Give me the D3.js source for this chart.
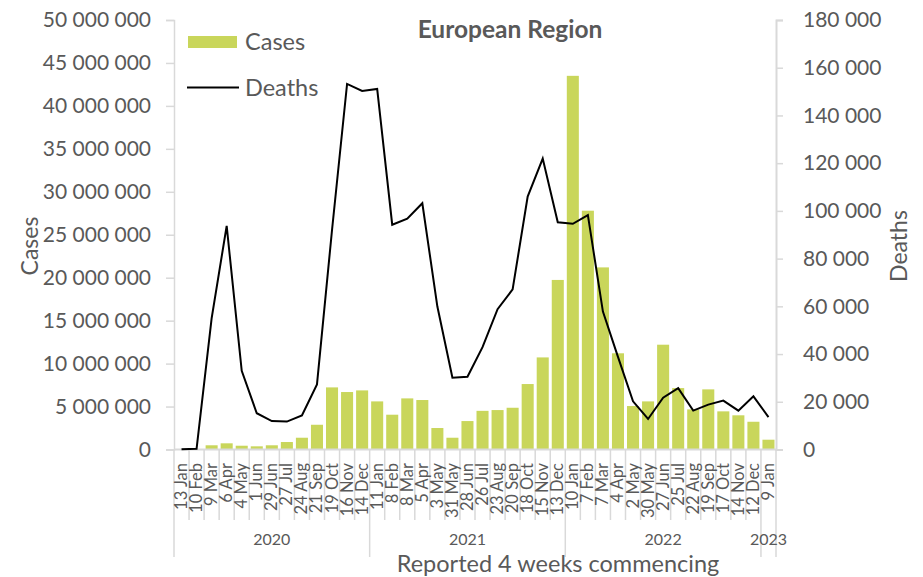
<!DOCTYPE html>
<html>
<head>
<meta charset="utf-8">
<script src="https://cdn.jsdelivr.net/npm/d3@7"></script>
<style>
  body { margin: 0; background: #fff; }
  svg { display: block; font-family: Lato, "Liberation Sans", sans-serif; }
</style>
</head>
<body>
<svg id="chart" width="923" height="577"></svg>
<script>
const categories = ["13 Jan","10 Feb","9 Mar","6 Apr","4 May","1 Jun","29 Jun","27 Jul","24 Aug","21 Sep","19 Oct","16 Nov","14 Dec",
  "11 Jan","8 Feb","8 Mar","5 Apr","3 May","31 May","28 Jun","26 Jul","23 Aug","20 Sep","18 Oct","15 Nov","13 Dec",
  "10 Jan","7 Feb","7 Mar","4 Apr","2 May","30 May","27 Jun","25 Jul","22 Aug","19 Sep","17 Oct","14 Nov","12 Dec",
  "9 Jan"];
const years = ["2020","2020","2020","2020","2020","2020","2020","2020","2020","2020","2020","2020","2020",
  "2021","2021","2021","2021","2021","2021","2021","2021","2021","2021","2021","2021","2021",
  "2022","2022","2022","2022","2022","2022","2022","2022","2022","2022","2022","2022","2022",
  "2023"];
const cases = [5000, 30000, 490000, 720000, 440000, 370000, 490000, 870000, 1370000, 2880000, 7230000, 6690000, 6880000,
  5600000, 4050000, 5950000, 5760000, 2500000, 1370000, 3310000, 4500000, 4590000, 4860000, 7620000, 10720000, 19740000,
  43500000, 27800000, 21200000, 11200000, 5060000, 5600000, 12200000, 7150000, 4670000, 7000000, 4440000, 3980000, 3230000,
  1140000];
const deaths = [100, 300, 55000, 93700, 33000, 15200, 11900, 11700, 14300, 27300, 92000, 153200, 150300,
  151100, 94200, 96700, 103200, 59900, 30100, 30500, 42900, 58800, 67100, 106000, 121900, 95200,
  94600, 98200, 57800, 38800, 20200, 12800, 21700, 25700, 16300, 18800, 20500, 16300, 22300,
  13600];
const casesTicks = [0, 5e6, 10e6, 15e6, 20e6, 25e6, 30e6, 35e6, 40e6, 45e6, 50e6];
const deathsTicks = [0, 20000, 40000, 60000, 80000, 100000, 120000, 140000, 160000, 180000];
const title = "European Region";
const seriesNames = ["Cases", "Deaths"];

const svg = d3.select("#chart");
const pLeft = 174, pRight = 776, pTop = 20, pBottom = 449.5;
const textCol = "#595959", axisCol = "#d9d9d9", barCol = "#c9d65b";

const x = d3.scaleBand().domain(d3.range(categories.length)).range([pLeft, pRight]).paddingInner(0.2).paddingOuter(0.1);
const yC = d3.scaleLinear().domain([0, 50e6]).range([pBottom, pTop]);
const yD = d3.scaleLinear().domain([0, 180000]).range([pBottom, pTop]);
const fmt = v => d3.format(",")(v).replace(/,/g, " ");
const step = x.step();
const boundary = i => x(i) - step * x.paddingInner() / 2;

// Bars
svg.append("g").selectAll("rect").data(cases).join("rect")
  .attr("x", (d, i) => x(i)).attr("width", x.bandwidth())
  .attr("y", d => yC(d)).attr("height", d => yC(0) - yC(d))
  .attr("fill", barCol);

// Left axis
const la = svg.append("g").attr("transform", `translate(${pLeft},0)`)
  .call(d3.axisLeft(yC).tickValues(casesTicks).tickFormat(fmt).tickSize(8).tickPadding(15));
la.select(".domain").attr("stroke", axisCol).attr("stroke-width", 1.5);
la.selectAll(".tick line").attr("stroke", axisCol).attr("stroke-width", 1.5);
la.selectAll("text").attr("fill", textCol).attr("font-size", 21).attr("font-family", "Lato");

// Right axis
const ra = svg.append("g").attr("transform", `translate(${pRight},0)`)
  .call(d3.axisRight(yD).tickValues(deathsTicks).tickFormat(fmt).tickSize(7).tickPadding(20));
ra.select(".domain").attr("stroke", axisCol).attr("stroke-width", 2);
ra.selectAll(".tick line").attr("stroke", axisCol).attr("stroke-width", 1.5);
ra.selectAll("text").attr("fill", textCol).attr("font-size", 21).attr("font-family", "Lato");

// X axis line
svg.append("line").attr("x1", pLeft).attr("x2", pRight).attr("y1", pBottom).attr("y2", pBottom)
  .attr("stroke", axisCol).attr("stroke-width", 2);

// category tick lines
const bounds = d3.range(categories.length + 1).map(i => i < categories.length ? boundary(i) : pRight);
const yearStarts = new Set([0, categories.length]);
years.forEach((y, i) => { if (i > 0 && y !== years[i - 1]) yearStarts.add(i); });
svg.append("g").selectAll("line").data(bounds).join("line")
  .attr("x1", d => d).attr("x2", d => d)
  .attr("y1", pBottom).attr("y2", (d, i) => yearStarts.has(i) ? 557 : 520)
  .attr("stroke", axisCol).attr("stroke-width", 1.5);

// category labels
svg.append("g").selectAll("text").data(categories).join("text")
  .attr("transform", (d, i) => `translate(${x(i) + x.bandwidth() / 2 + 5.5},${463}) rotate(-90)`)
  .attr("text-anchor", "end")
  .attr("font-size", 16.5).attr("fill", textCol)
  .text(d => d);

// year labels
const groups = d3.groups(years.map((y, i) => ({ y, i })), d => d.y);
svg.append("g").selectAll("text").data(groups).join("text")
  .attr("x", d => {
    const a = d[1][0].i, b = d[1][d[1].length - 1].i + 1;
    return (bounds[a] + bounds[b]) / 2;
  })
  .attr("y", 545).attr("text-anchor", "middle")
  .attr("font-size", 16).attr("fill", textCol)
  .text(d => d[0]);

// Deaths line
svg.append("path").datum(deaths)
  .attr("d", d3.line().x((d, i) => x(i) + x.bandwidth() / 2).y(d => yD(d)))
  .attr("fill", "none").attr("stroke", "#000").attr("stroke-width", 2).attr("stroke-linejoin", "miter");

// Title
svg.append("text").attr("x", 510).attr("y", 38).attr("text-anchor", "middle")
  .attr("font-size", 24.5).attr("font-weight", "bold").attr("fill", textCol).text(title);

// Legend
svg.append("rect").attr("x", 188).attr("y", 36).attr("width", 49).attr("height", 12).attr("fill", barCol);
svg.append("text").attr("x", 245).attr("y", 50).attr("font-size", 23.5).attr("fill", textCol).text(seriesNames[0]);
svg.append("line").attr("x1", 187).attr("x2", 239).attr("y1", 87.5).attr("y2", 87.5).attr("stroke", "#000").attr("stroke-width", 2);
svg.append("text").attr("x", 245).attr("y", 95.5).attr("font-size", 23.5).attr("fill", textCol).text(seriesNames[1]);

// Axis titles
svg.append("text").attr("transform", "translate(38,246) rotate(-90)").attr("text-anchor", "middle")
  .attr("font-size", 23).attr("fill", textCol).text("Cases");
svg.append("text").attr("transform", "translate(907,246) rotate(-90)").attr("text-anchor", "middle")
  .attr("font-size", 23).attr("fill", textCol).text("Deaths");
svg.append("text").attr("x", 558).attr("y", 571.5).attr("text-anchor", "middle")
  .attr("font-size", 23.5).attr("fill", textCol).text("Reported 4 weeks commencing");
</script>
</body>
</html>
